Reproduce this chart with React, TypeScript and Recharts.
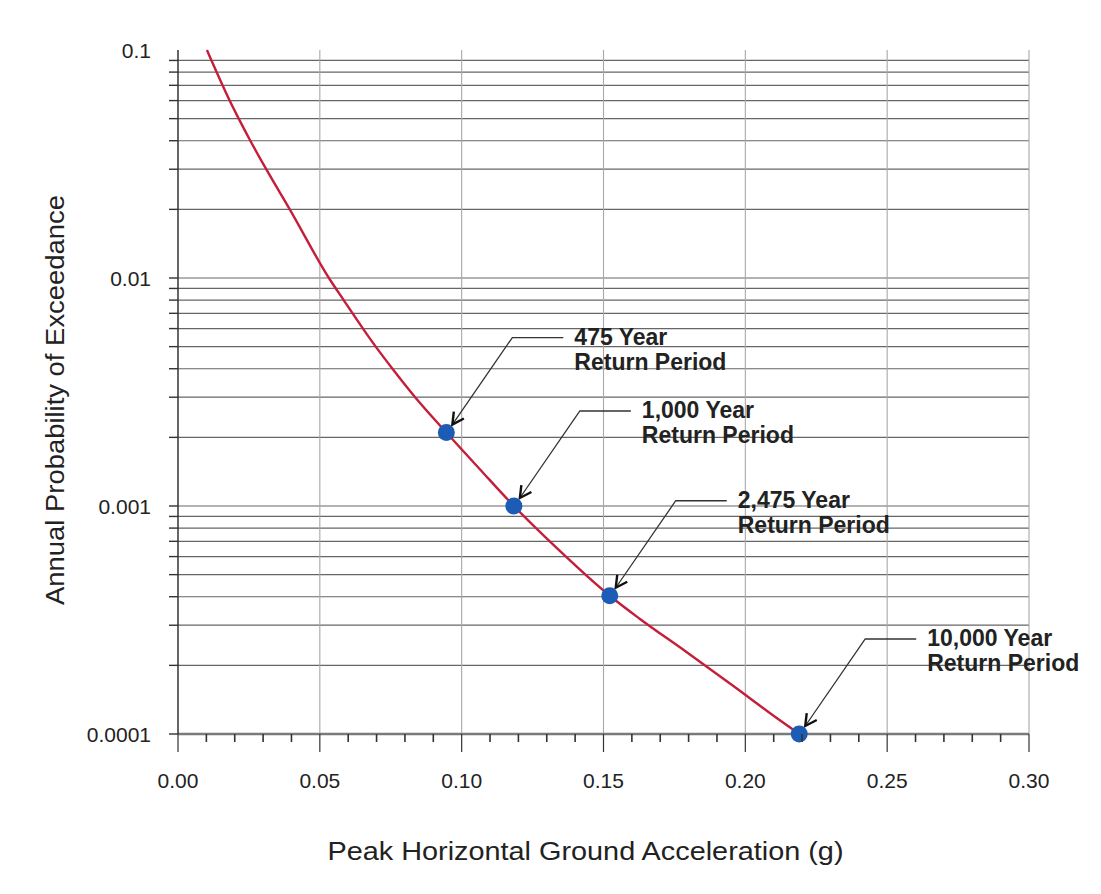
import React from "react";
import { ComposedChart, Line, Scatter, XAxis, YAxis, ReferenceLine } from "recharts";

// Hazard curve
const PGA = [0.0102, 0.0118, 0.0136, 0.0157, 0.0182, 0.0214, 0.0255, 0.0311, 0.0394, 0.0532, 0.0584, 0.0652, 0.0697, 0.0756, 0.0836, 0.0946, 0.1064, 0.1184, 0.1332, 0.1522, 0.1625, 0.179, 0.1953, 0.2113, 0.219];
const PROB = [0.1, 0.09, 0.08, 0.07, 0.06, 0.05, 0.04, 0.03, 0.02, 0.01, 0.008, 0.006, 0.005, 0.004, 0.003, 0.0021, 0.00145, 0.001, 0.00066, 0.000404, 0.000322, 0.00023, 0.000164, 0.000117, 0.0001];

// Return period markers
const RP_PGA = [0.0946, 0.1184, 0.1522, 0.219];
const RP_PROB = [0.0021, 0.001, 0.000404, 0.0001];
const RP_LABELS = ["475 Year", "1,000 Year", "2,475 Year", "10,000 Year"];
const RP_SUB = "Return Period";

// Axes
const X_TICKS = [0, 0.01, 0.02, 0.03, 0.04, 0.05, 0.06, 0.07, 0.08, 0.09, 0.1, 0.11, 0.12, 0.13, 0.14, 0.15, 0.16, 0.17, 0.18, 0.19, 0.2, 0.21, 0.22, 0.23, 0.24, 0.25, 0.26, 0.27, 0.28, 0.29, 0.3];
const X_MAJOR = [0, 0.05, 0.1, 0.15, 0.2, 0.25, 0.3];
const X_TICK_LABELS = ["0.00", "0.05", "0.10", "0.15", "0.20", "0.25", "0.30"];
const Y_TICKS = [0.0001, 0.0002, 0.0003, 0.0004, 0.0005, 0.0006, 0.0007, 0.0008, 0.0009, 0.001, 0.002, 0.003, 0.004, 0.005, 0.006, 0.007, 0.008, 0.009, 0.01, 0.02, 0.03, 0.04, 0.05, 0.06, 0.07, 0.08, 0.09, 0.1];
const Y_DECADES = [0.0001, 0.001, 0.01, 0.1];
const Y_TICK_LABELS = ["0.0001", "0.001", "0.01", "0.1"];
const Y_GRID = [0.0002, 0.0003, 0.0004, 0.0005, 0.0006, 0.0007, 0.0008, 0.0009, 0.001, 0.002, 0.003, 0.004, 0.005, 0.006, 0.007, 0.008, 0.009, 0.01, 0.02, 0.03, 0.04, 0.05, 0.06, 0.07, 0.08, 0.09];

const X_TITLE = "Peak Horizontal Ground Acceleration (g)";
const Y_TITLE = "Annual Probability of Exceedance";

const curveData = PGA.map((g, i) => ({ g, p: PROB[i] }));
const rpData = RP_PGA.map((g, i) => ({ g, p: RP_PROB[i], label: RP_LABELS[i] }));

const FONT = "'Liberation Sans', Arial, Helvetica, sans-serif";
const TEXT = "#222";

function XTick(props: any) {
  const { x, y, payload } = props;
  const v = payload.value;
  const mi = X_MAJOR.findIndex((m) => Math.abs(m - v) < 1e-9);
  const major = mi >= 0;
  return (
    <g>
      <line x1={x} x2={x} y1={y} y2={y + (major ? 18 : 8)} stroke="#333" strokeWidth={major ? 1.2 : 1.6} />
      {major && (
        <text x={x} y={y + 46} textAnchor="middle" dominantBaseline="central" fontSize={21} fontFamily={FONT} fill={TEXT}>
          {X_TICK_LABELS[mi]}
        </text>
      )}
    </g>
  );
}

function YTick(props: any) {
  const { x, y, payload } = props;
  const v = payload.value;
  const di = Y_DECADES.findIndex((d) => Math.abs(d - v) / d < 1e-6);
  const isTop = Math.abs(v - 0.1) < 1e-9;
  return (
    <g>
      {!isTop && <line x1={x - 9} x2={x} y1={y} y2={y} stroke="#333" strokeWidth={1.4} />}
      {di >= 0 && (
        <text x={x - 27} y={y} textAnchor="end" dominantBaseline="central" fontSize={21} fontFamily={FONT} fill={TEXT}>
          {Y_TICK_LABELS[di]}
        </text>
      )}
    </g>
  );
}

function ReturnShape(props: any) {
  const { cx, cy, payload } = props;
  if (cx == null || cy == null) return null;
  const tip = { x: cx + 6, y: cy - 8 };
  const corner = { x: cx + 66, y: cy - 95 };
  const end = { x: cx + 117, y: cy - 95 };
  const dx = corner.x - tip.x;
  const dy = corner.y - tip.y;
  const len = Math.sqrt(dx * dx + dy * dy);
  const ux = dx / len;
  const uy = dy / len;
  const ang = (28 * Math.PI) / 180;
  const bl = 13;
  const b1 = { x: tip.x + bl * (ux * Math.cos(ang) - uy * Math.sin(ang)), y: tip.y + bl * (ux * Math.sin(ang) + uy * Math.cos(ang)) };
  const b2 = { x: tip.x + bl * (ux * Math.cos(-ang) - uy * Math.sin(-ang)), y: tip.y + bl * (ux * Math.sin(-ang) + uy * Math.cos(-ang)) };
  return (
    <g>
      <polyline points={`${end.x},${end.y} ${corner.x},${corner.y} ${tip.x},${tip.y}`} fill="none" stroke="#333" strokeWidth={1.3} />
      <polyline points={`${b1.x},${b1.y} ${tip.x},${tip.y} ${b2.x},${b2.y}`} fill="none" stroke="#111" strokeWidth={2.4} strokeLinejoin="miter" />
      <circle cx={cx} cy={cy} r={8.5} fill="#1d5cb4" />
      <text x={cx + 128} y={cy - 96} dominantBaseline="central" fontSize={23} fontWeight="bold" fontFamily={FONT} fill={TEXT}>
        {payload.label}
      </text>
      <text x={cx + 128} y={cy - 71} dominantBaseline="central" fontSize={23} fontWeight="bold" fontFamily={FONT} fill={TEXT}>
        {RP_SUB}
      </text>
    </g>
  );
}

export default function App() {
  return (
    <div style={{ width: 1093, height: 880, background: "#fff" }}>
      <ComposedChart width={1093} height={880} margin={{ top: 42, right: 72, left: 0, bottom: 24 }} style={{ overflow: "visible" }}>
        <XAxis
          type="number"
          dataKey="g"
          domain={[0, 0.3]}
          ticks={X_TICKS}
          interval={0}
          tickSize={0}
          tickMargin={0}
          tickLine={false}
          tick={<XTick />}
          axisLine={{ stroke: "#7a7a7a", strokeWidth: 2.5 }}
          height={130}
          label={{
            content: (p: any) => {
              const vb = p.viewBox || { x: 170, y: 726, width: 851, height: 130 };
              return (
                <text x={vb.x + vb.width / 2 - 18} y={vb.y + 117} textAnchor="middle" dominantBaseline="central" fontSize={25} textLength={516} lengthAdjust="spacingAndGlyphs" fontFamily={FONT} fill={TEXT}>
                  {X_TITLE}
                </text>
              );
            },
          }}
        />
        <YAxis
          type="number"
          dataKey="p"
          scale="log"
          domain={[0.0001, 0.1]}
          ticks={Y_TICKS}
          interval={0}
          tickSize={0}
          tickMargin={0}
          tickLine={false}
          tick={<YTick />}
          axisLine={{ stroke: "#333", strokeWidth: 1.5 }}
          width={170}
          label={{
            content: (p: any) => {
              const vb = p.viewBox || { x: 0, y: 42, width: 170, height: 684 };
              const cx = vb.x + 47;
              const cy = vb.y + vb.height / 2 + 8;
              return (
                <text x={cx} y={cy} transform={`rotate(-90, ${cx}, ${cy})`} textAnchor="middle" dominantBaseline="central" fontSize={25} textLength={410} lengthAdjust="spacingAndGlyphs" fontFamily={FONT} fill={TEXT}>
                  {Y_TITLE}
                </text>
              );
            },
          }}
        />
        {Y_GRID.map((v) => (
          <ReferenceLine key={`h${v}`} y={v} stroke="#666" strokeWidth={1.2} />
        ))}
        {X_MAJOR.slice(1).map((v) => (
          <ReferenceLine key={`v${v}`} x={v} stroke="#a8a8a8" strokeWidth={1.1} />
        ))}
        <Line
          data={curveData}
          dataKey="p"
          type="monotone"
          stroke="#c41e3a"
          strokeWidth={2.4}
          dot={false}
          isAnimationActive={false}
        />
        <Scatter data={rpData} dataKey="p" shape={<ReturnShape />} isAnimationActive={false} />
      </ComposedChart>
    </div>
  );
}
